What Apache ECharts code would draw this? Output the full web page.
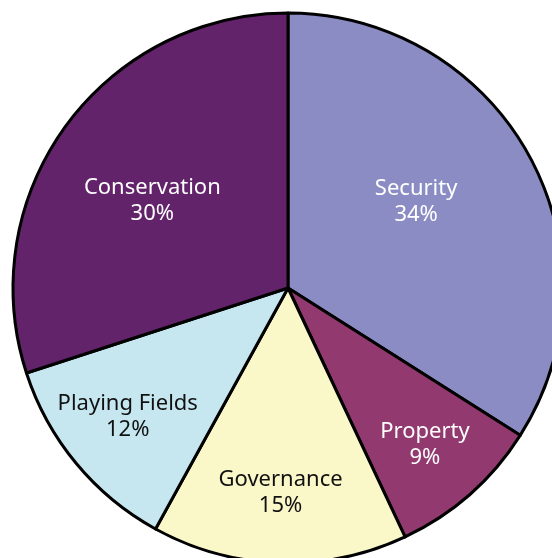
<!DOCTYPE html>
<html><head><meta charset="utf-8">
<script src="https://cdn.jsdelivr.net/npm/echarts@6/dist/echarts.min.js"></script>
<style>html,body{margin:0;padding:0;background:#fff}#c{width:552px;height:558px}</style>
</head><body><div id="c"></div>
<script>
const categories = ['Security', 'Property', 'Governance', 'Playing Fields', 'Conservation'];
const values = [34, 9, 15, 12, 30];
const colors = ['#8C8CC5', '#923A6F', '#FAF7C8', '#C6E7F0', '#62236A'];
const textColors = ['#ffffff', '#ffffff', '#111111', '#111111', '#ffffff'];
const labelOffsets = [[5, -19], [44, 51], [-3, 64], [-52, 39], [-22, -5]];

const chart = echarts.init(document.getElementById('c'));
chart.setOption({
  animation: false,
  series: [{
    type: 'pie',
    center: [288, 288],
    radius: 275,
    startAngle: 90,
    clockwise: true,
    avoidLabelOverlap: false,
    itemStyle: { borderColor: '#000', borderWidth: 3 },
    label: {
      show: true,
      position: 'inside',
      formatter: '{b}\n{c}%',
      fontFamily: 'Noto Sans',
      fontSize: 22,
      lineHeight: 26,
      align: 'center'
    },
    labelLine: { show: false },
    emphasis: { disabled: true },
    data: categories.map((name, i) => ({
      name,
      value: values[i],
      itemStyle: { color: colors[i] },
      label: { color: textColors[i], offset: labelOffsets[i] }
    }))
  }]
});
</script></body></html>
